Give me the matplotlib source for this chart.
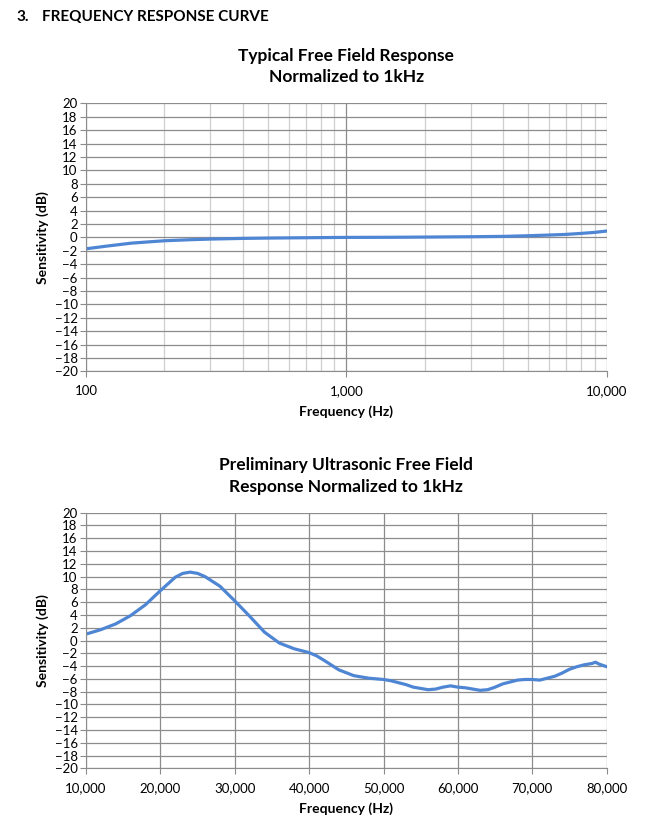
import matplotlib.pyplot as plt
from matplotlib.ticker import FuncFormatter, LogLocator, FixedLocator

plt.rcParams['font.family'] = ['Lato', 'DejaVu Sans']

# Typical free field response (log axis)
freq_ff = [100, 120, 150, 200, 250, 300, 400, 500, 700, 1000, 1500, 2000,
           3000, 4000, 5000, 6000, 7000, 8000, 9000, 10000]
sens_ff = [-1.7, -1.3, -0.85, -0.5, -0.35, -0.25, -0.15, -0.1, -0.05, 0.0,
           0.02, 0.05, 0.1, 0.15, 0.25, 0.35, 0.45, 0.6, 0.75, 0.95]

# Preliminary ultrasonic response
freq_us = [10000, 12000, 14000, 16000, 18000, 20000, 22000, 23000, 24000,
           25000, 26000, 28000, 30000, 32000, 34000, 36000, 38000, 40000,
           41000, 42000, 44000, 46000, 48000, 50000, 51000, 52000, 53000,
           54000, 55000, 56000, 57000, 58000, 59000, 60000, 61000, 62000,
           63000, 64000, 65000, 66000, 67000, 68000, 69000, 70000, 71000,
           72000, 73000, 74000, 75000, 76000, 77000, 78000, 78500, 79000,
           79500, 80000]
sens_us = [1.0, 1.7, 2.6, 3.9, 5.6, 7.8, 9.9, 10.5, 10.7, 10.5, 10.0, 8.5,
           6.2, 3.8, 1.3, -0.4, -1.3, -1.9, -2.4, -3.1, -4.6, -5.5, -5.9,
           -6.1, -6.3, -6.6, -6.9, -7.3, -7.5, -7.7, -7.6, -7.3, -7.1, -7.3,
           -7.4, -7.6, -7.8, -7.7, -7.3, -6.8, -6.5, -6.2, -6.1, -6.1, -6.2,
           -5.9, -5.6, -5.1, -4.5, -4.1, -3.8, -3.6, -3.4, -3.7, -3.9, -4.1]

yticks = list(range(-20, 21, 2))
line_color = '#4f86d4'

fig = plt.figure(figsize=(6.54, 8.30), dpi=100)
fig.text(16 / 654, 1 - 17 / 830, '3.', fontsize=11, fontweight='bold', va='center')
fig.text(42 / 654, 1 - 17 / 830, 'FREQUENCY RESPONSE CURVE', fontsize=11,
         fontweight='bold', va='center')

thousands = FuncFormatter(lambda v, p: f'{int(round(v)):,}')

# top chart
ax1 = fig.add_axes([86 / 654, 1 - 371.5 / 830, 520.7 / 654, 268.2 / 830])
ax1.plot(freq_ff, sens_ff, color=line_color, lw=2.3)
ax1.set_xscale('log')
ax1.set_xlim(100, 10000)
ax1.set_ylim(-20, 20)
ax1.xaxis.set_major_locator(FixedLocator([100, 1000, 10000]))
ax1.xaxis.set_major_formatter(thousands)
ax1.xaxis.set_minor_locator(LogLocator(base=10, subs=range(2, 10)))
ax1.xaxis.set_minor_formatter(FuncFormatter(lambda v, p: ''))
ax1.grid(which='major', axis='x', color='#8c8c8c', lw=0.9)
ax1.grid(which='minor', axis='x', color='#cfcfcf', lw=0.9)
ax1.grid(which='major', axis='y', color='#8c8c8c', lw=0.9)
ax1.set_title('Typical Free Field Response\nNormalized to 1kHz',
              fontsize=12.5, fontweight='bold', pad=15, linespacing=1.45)

# bottom chart
ax2 = fig.add_axes([86 / 654, 1 - 768.3 / 830, 520.7 / 654, 255.6 / 830])
ax2.plot(freq_us, sens_us, color=line_color, lw=2.3)
ax2.set_xlim(10000, 80000)
ax2.set_ylim(-20, 20)
ax2.set_xticks(list(range(10000, 80001, 10000)))
ax2.xaxis.set_major_formatter(thousands)
ax2.grid(which='major', color='#8c8c8c', lw=0.9)
ax2.set_title('Preliminary Ultrasonic Free Field\nResponse Normalized to 1kHz',
              fontsize=12.5, fontweight='bold', pad=15, linespacing=1.45)

for ax in (ax1, ax2):
    ax.set_yticks(yticks)
    ax.tick_params(axis='both', which='both', labelsize=9.5, length=4,
                   color='#8c8c8c', pad=2)
    ax.tick_params(axis='x', which='minor', length=0)
    ax.tick_params(axis='x', pad=6)
    ax.set_axisbelow(True)
    for side in ('top', 'right'):
        ax.spines[side].set_visible(False)
    for side in ('left', 'bottom'):
        ax.spines[side].set_color('#8c8c8c')
    ax.set_xlabel('Frequency (Hz)', fontsize=10, fontweight='bold', labelpad=6)
    ax.set_ylabel('Sensitivity (dB)', fontsize=10, fontweight='bold', labelpad=4)

fig.savefig('out.png', dpi=100)
